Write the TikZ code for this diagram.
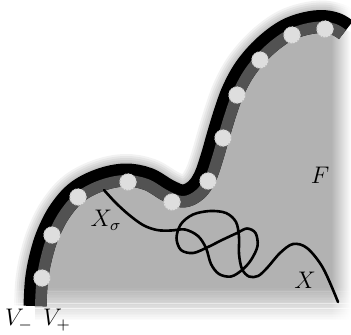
\documentclass[tikz,border=0pt]{standalone}
\begin{document}
\begin{tikzpicture}[x=0.5pt,y=-0.5pt,
  bandblack/.style={line width=11.5pt, black, line join=round},
  bandgray/.style={line width=11.5pt, black!68, line join=round},
  halo/.style={line width=#1, black, opacity=0.05},
  dotfill/.style={fill=black!13},
  dotrim/.style={draw=black!28, densely dotted, line width=0.5pt},
  xcurve/.style={line width=1.3pt, black, line cap=round},
  lbl/.style={font=\large, inner sep=0pt}]
\useasboundingbox (0,0) rectangle (351,334);
\def\bcurve{plot[smooth, tension=0.6] coordinates {(35,306) (36.5,280) (41,256) (48,234) (60,211) (77,192) (100,180) (125,175) (148,179) (168,190.5) (183,196) (196,190) (205,177) (212,157) (218,136) (225,113) (233,91) (245,69) (262,49) (282,33) (300,25) (320,21.5) (336,24) (346,30)}}
% halo outside the band
\foreach \w in {13pt,15pt,17pt,19pt,21pt} {\draw[halo=\w] \bcurve;}
% region F
\fill[black!30] \bcurve -- (372,42) -- (372,345) -- (35,345) -- cycle;
% soft bottom and right edges
\foreach \i in {0,...,19} {
  \fill[white, opacity=(\i+1)/20] (-5,{288+\i*1.7}) rectangle (360,{288+(\i+1)*1.7+0.2});
  \fill[white, opacity=(\i+1)/20] ({332+\i*1.0},-5) rectangle ({332+(\i+1)*1.0+0.2},340);
}
\fill[white] (-5,322) rectangle (360,345);
% band
\draw[bandblack] \bcurve;
\begin{scope}
  \clip \bcurve -- (372,42) -- (372,345) -- (35,345) -- cycle;
  \draw[bandgray] \bcurve;
\end{scope}
% dots
\foreach \p [count=\i] in {(42,278),(52,235),(78,197),(128,182),(172,202),(208,181),(223,138),(237,95),(260,60),(292,35),(325,29)} {
  \fill[dotfill] \p circle (8.5);
  \draw[dotrim] \p circle (8.3);
}
% curve X
\coordinate (xs) at (104,190);
\coordinate (xe) at (338,302);
\draw[xcurve] plot[smooth, tension=0.55] coordinates {(104,190) (115,202) (128,214) (143,225) (157,230) (171,230.5) (185,229.5) (198,236) (206,248) (211,264) (219,274) (231,276.5) (242,270) (251,260) (257.5,246) (255.5,233) (247,228.5) (237,233) (222,240) (207,247.5) (193,253) (181,250) (176.5,238) (181,224) (193,214.5) (210,211) (226,213) (236,222) (239,237) (239,254) (242,269) (249,276.5) (258,276) (267,268) (280,253) (293,244) (307,248) (323,268) (338,302)};
% labels
\node[lbl] (F) at (320,175) {$F$};
\node[lbl] (X) at (305,280) {$X$};
\node[lbl] (Xs) at (106,220) {$X_\sigma$};
\node[lbl] (Vm) at (19,320) {$V_-$};
\node[lbl] (Vp) at (57,320) {$V_+$};
\end{tikzpicture}
\end{document}
